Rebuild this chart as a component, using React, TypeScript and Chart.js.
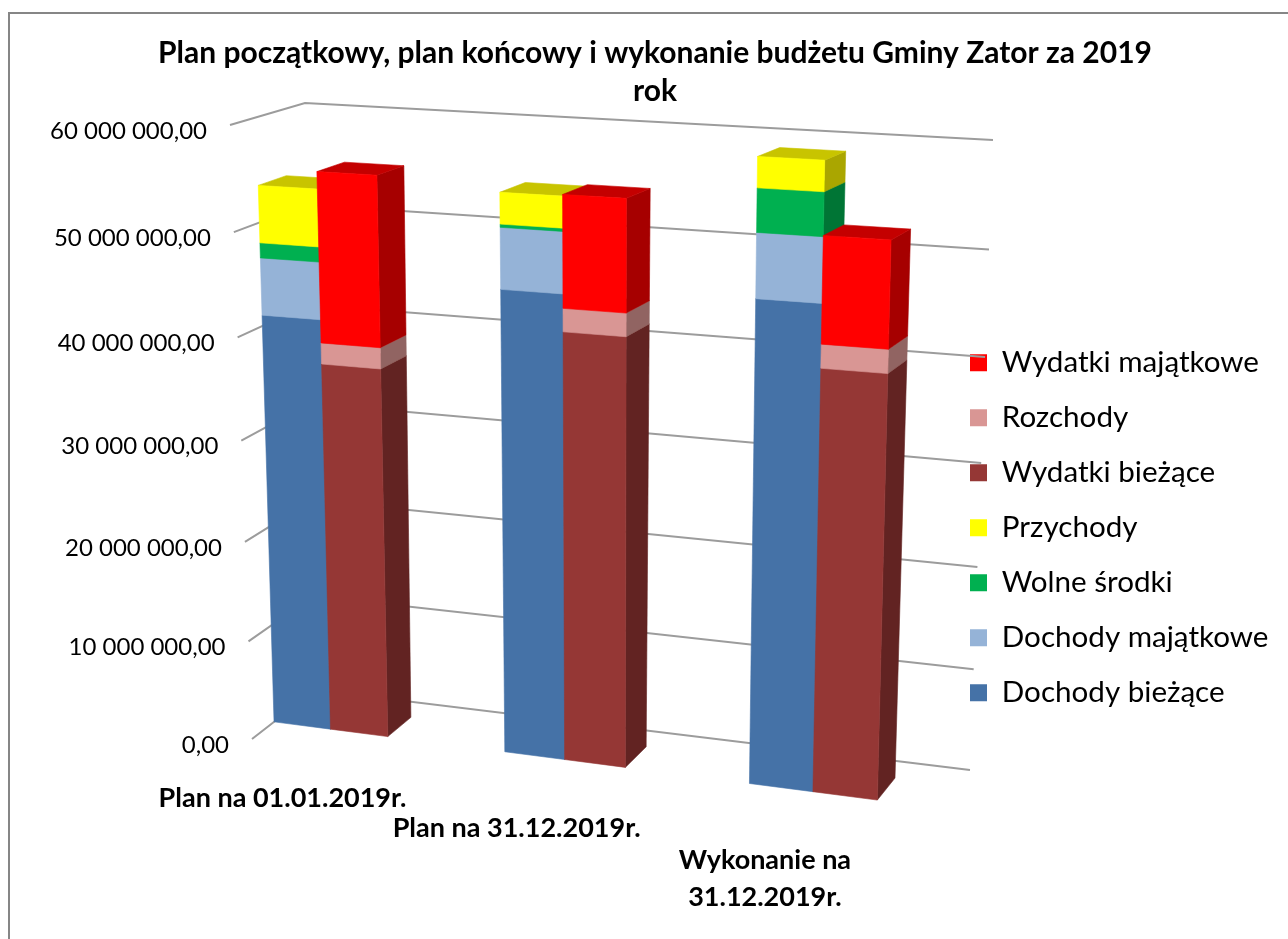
import React, { useEffect, useRef } from "react";
import { Chart, registerables } from "chart.js";

Chart.register(...registerables);

const titleLines = ["Plan początkowy, plan końcowy i wykonanie budżetu Gminy Zator za 2019", "rok"];
const categories = ["Plan na 01.01.2019r.", "Plan na 31.12.2019r.", ["Wykonanie na", "31.12.2019r."]];

const dochodyBiezace = [41050000, 45250000, 46100000];
const dochodyMajatkowe = [5550000, 5800000, 6000000];
const wolneSrodki = [1450000, 300000, 4000000];
const przychody = [5500000, 2950000, 2800000];
const wydatkiBiezace = [36750000, 41700000, 40200000];
const rozchody = [2050000, 2200000, 2200000];
const wydatkiMajatkowe = [16400000, 10550000, 9800000];

const frontColors = ["#4572A7", "#95B3D7", "#00B050", "#FFFF00", "#953735", "#D99694", "#FF0000"];
const sideColors = ["#2E4C70", "#637790", "#007535", "#AAA600", "#622322", "#916462", "#A60000"];
const topColors = ["#375B86", "#7790AC", "#008D40", "#C8C400", "#772C2A", "#AE7876", "#C40000"];

const FONT = "Lato, 'Open Sans', sans-serif";
const GRID = "#9C9C9C";

type P = [number, number];
// projection corners of the 3D box: bottom-left, bottom-right, top-right, top-left
const FRONT: P[] = [[252, 739], [926, 829], [944, 163], [230, 125]];
const BACK: P[] = [[315, 690], [970, 770], [993, 140], [305, 103]];
const BAR_W1 = 0.35;
const BAR_W2 = 0.73;
const U_A = -0.0911;
const U_B = 1.093;

function project(u: number, v: number, w: number): P {
  const q = FRONT.map((p, i) => [p[0] + (BACK[i][0] - p[0]) * w, p[1] + (BACK[i][1] - p[1]) * w]);
  const [[x0, y0], [x1, y1], [x2, y2], [x3, y3]] = q;
  const dx1 = x1 - x2, dx2 = x3 - x2, dx3 = x0 - x1 + x2 - x3;
  const dy1 = y1 - y2, dy2 = y3 - y2, dy3 = y0 - y1 + y2 - y3;
  const det = dx1 * dy2 - dx2 * dy1;
  const g = (dx3 * dy2 - dx2 * dy3) / det;
  const h = (dx1 * dy3 - dx3 * dy1) / det;
  const a = x1 - x0 + g * x1, b = x3 - x0 + h * x3;
  const d = y1 - y0 + g * y1, e = y3 - y0 + h * y3;
  const den = g * u + h * v + 1;
  return [(a * u + b * v + x0) / den, (d * u + e * v + y0) / den];
}

function poly(ctx: CanvasRenderingContext2D, pts: P[], color: string) {
  ctx.beginPath();
  pts.forEach((p, i) => (i ? ctx.lineTo(p[0], p[1]) : ctx.moveTo(p[0], p[1])));
  ctx.closePath();
  ctx.fillStyle = color;
  ctx.strokeStyle = color;
  ctx.lineWidth = 0.6;
  ctx.fill();
  ctx.stroke();
}

const perspective = {
  id: "perspective",
  beforeDraw(chart: any) {
    const { ctx } = chart;
    ctx.save();
    ctx.strokeStyle = "#868686";
    ctx.lineWidth = 2;
    ctx.beginPath();
    ctx.moveTo(9, 945);
    ctx.lineTo(9, 13);
    ctx.lineTo(1295, 13);
    ctx.stroke();
    ctx.restore();
  },
  afterLayout(chart: any) {
    const lg = chart.legend;
    const dx = 970 - lg.left - lg.options.labels.padding;
    const dy = 348 - lg.top - lg.options.labels.padding;
    lg.left += dx; lg.right += dx; lg.top += dy; lg.bottom += dy;
  },
  beforeDatasetsDraw(chart: any) {
    const { ctx, chartArea: ca, scales } = chart;
    const V = (py: number) => (ca.bottom - py) / (ca.bottom - ca.top);
    const U = (px: number) => U_A + (U_B * (px - ca.left)) / (ca.right - ca.left);
    ctx.save();
    // grid on left wall and back wall, with value labels
    scales.y.ticks.forEach((t: any) => {
      const v = V(scales.y.getPixelForValue(t.value));
      const a = project(0, v, 0), b = project(0, v, 1), c = project(1, v, 1);
      ctx.strokeStyle = GRID;
      ctx.lineWidth = 2;
      ctx.beginPath();
      ctx.moveTo(a[0], a[1]);
      ctx.lineTo(b[0], b[1]);
      ctx.lineTo(c[0], c[1]);
      ctx.stroke();
      ctx.fillStyle = "#000";
      ctx.font = `24px ${FONT}`;
      ctx.textAlign = "right";
      ctx.textBaseline = "middle";
      ctx.fillText(t.label, a[0] - 23, a[1] + 6);
    });
    // bars: left stack then right stack of every category
    const stacks = [[0, 1, 2, 3], [4, 5, 6]];
    categories.forEach((cat, ci) => {
      stacks.forEach((stack) => {
        stack.forEach((di) => {
          const el = chart.getDatasetMeta(di).data[ci];
          const hw = el.width / 2;
          const ul = U(el.x - hw), ur = U(el.x + hw), vb = V(el.base), vt = V(el.y);
          poly(ctx, [project(ur, vb, BAR_W1), project(ur, vb, BAR_W2), project(ur, vt, BAR_W2), project(ur, vt, BAR_W1)], sideColors[di]);
          poly(ctx, [project(ul, vt, BAR_W1), project(ur, vt, BAR_W1), project(ur, vt, BAR_W2), project(ul, vt, BAR_W2)], topColors[di]);
          poly(ctx, [project(ul, vb, BAR_W1), project(ur, vb, BAR_W1), project(ur, vt, BAR_W1), project(ul, vt, BAR_W1)], frontColors[di]);
        });
      });
      // category label under the pair of bars
      const cx = U(scales.x.getPixelForValue(ci));
      const p = project(cx, 0, BAR_W1);
      const lines = Array.isArray(cat) ? cat : [cat];
      ctx.fillStyle = "#000";
      ctx.font = `bold 27px ${FONT}`;
      ctx.textAlign = "center";
      ctx.textBaseline = "middle";
      lines.forEach((line, li) => ctx.fillText(line, p[0] - 48, p[1] + 69 + li * 37));
    });
    ctx.restore();
    return false;
  },
};

export default function App() {
  const ref = useRef<HTMLCanvasElement>(null);
  useEffect(() => {
    const names = ["Dochody bieżące", "Dochody majątkowe", "Wolne środki", "Przychody", "Wydatki bieżące", "Rozchody", "Wydatki majątkowe"];
    const values = [dochodyBiezace, dochodyMajatkowe, wolneSrodki, przychody, wydatkiBiezace, rozchody, wydatkiMajatkowe];
    const chart = new Chart(ref.current as HTMLCanvasElement, {
      type: "bar",
      data: {
        labels: categories as any,
        datasets: names.map((label, i) => ({
          label,
          data: values[i],
          backgroundColor: frontColors[i],
          stack: i < 4 ? "dochody" : "wydatki",
          barPercentage: 1,
          categoryPercentage: 0.5,
        })),
      },
      options: {
        animation: false,
        responsive: false,
        layout: { padding: { left: 22 } },
        scales: {
          x: { stacked: true, display: false },
          y: {
            stacked: true,
            display: false,
            min: 0,
            max: 60000000,
            ticks: {
              stepSize: 10000000,
              callback: (v: any) => Number(v).toLocaleString("pl-PL", { minimumFractionDigits: 2 }).replace(/\s/g, " ").replace(/^(\d)(\d{3}),/, "$1$2,"),
            },
          },
        },
        plugins: {
          title: {
            display: true,
            text: titleLines,
            color: "#000",
            font: { family: FONT, size: 30, weight: "bold", lineHeight: 1.27 },
            padding: { top: 34, bottom: 10 },
          },
          legend: {
            position: "right",
            reverse: true,
            align: "start",
            labels: {
              color: "#000",
              boxWidth: 17,
              boxHeight: 17,
              padding: 25.4,
              font: { family: FONT, size: 29.6 },
            },
          },
          tooltip: { enabled: false },
        },
      },
      plugins: [perspective],
    } as any);
    return () => chart.destroy();
  }, []);
  return <canvas ref={ref} width={1288} height={939} style={{ position: "fixed", left: 0, top: 0 }} />;
}
